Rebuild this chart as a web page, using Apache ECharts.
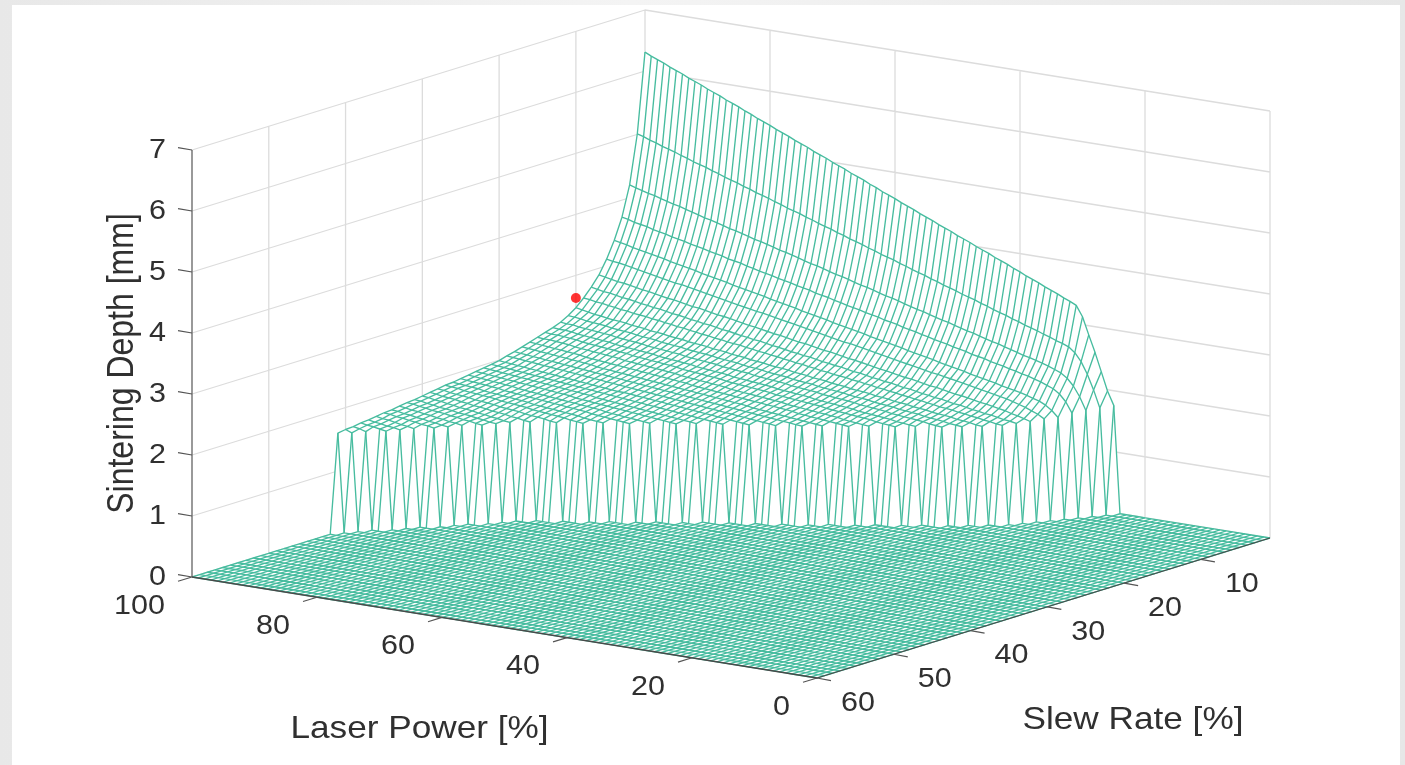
<!DOCTYPE html>
<html><head><meta charset="utf-8">
<style>
html,body{margin:0;padding:0;width:1405px;height:765px;overflow:hidden;background:linear-gradient(90deg,#e8e8e8,#f4f4f4 45%,#e7e7e7)}
#panel{position:absolute;left:12px;top:5px;width:1388px;height:760px;background:#fff}
#chart{position:absolute;left:0;top:0;width:1405px;height:765px;filter:blur(0.35px)}
</style>
<script src="https://cdn.jsdelivr.net/npm/echarts@6/dist/echarts.min.js"></script>
</head><body><div id="panel"></div><div id="chart"></div>
<script>
const powerTicks=[0,20,40,60,80,100];
const slewTicks=[10,20,30,40,50,60];
const depthTicks=[0,1,2,3,4,5,6,7];
const powerTitle='Laser Power [%]', slewTitle='Slew Rate [%]', depthTitle='Sintering Depth [mm]';
const redPoint=[100,10,2.63];
// Sintering depth in hundredths of a mm. Row n is slew rate n %; each row ends at laser power 100 %.
// Powers before a row's first value, and slew rates past the last row, read as depth 0.
const depthRows=[
[176,198,228,258,285,313,330,335,339,344,348,352,357,361,365,370,374,379,383,387,392,396,400,405,409,413,418,422,426,431,435,439,444,448,452,457,461,465,470,474,479,483,487,492,496,500,505,509,513,518,522,526,531,535,539,544,548,552,557,561,566,570,574,579,583,587,592,596,600,605,609,613,618,622,626,631],
[174,202,226,245,258,266,270,273,277,280,284,287,290,294,297,301,304,307,311,314,318,321,324,328,331,334,338,341,345,348,351,355,358,362,365,368,372,375,379,382,385,389,392,396,399,402,406,409,413,416,419,423,426,430,433,436,440,443,447,450,453,457,460,464,467,470,474,477,481,484,487,491,494,498,501],
[172,193,209,220,227,231,235,238,241,244,246,249,252,255,258,260,263,266,269,271,274,277,280,282,285,288,291,293,296,299,302,305,307,310,313,316,318,321,324,327,329,332,335,338,340,343,346,349,352,354,357,360,363,365,368,371,374,376,379,382,385,387,390,393,396,399,401,404,407,410,412,415,418,421],
[170,187,198,205,209,213,216,219,221,224,226,229,231,233,236,238,240,243,245,247,250,252,254,257,259,262,264,266,269,271,273,276,278,280,283,285,287,290,292,295,297,299,302,304,306,309,311,313,316,318,320,323,325,328,330,332,335,337,339,342,344,346,349,351,353,356,358,360,363,365,367,370,372],
[165,175,182,187,190,193,196,198,200,202,205,207,209,211,213,216,218,220,222,224,227,229,231,233,235,238,240,242,244,246,248,251,253,255,257,259,261,264,266,268,270,272,275,277,279,281,283,286,288,290,292,294,296,299,301,303,305,307,310,312,314,316,318,321,323,325,327,329,331,334,336,338],
[165,171,175,179,182,185,188,190,192,194,196,198,200,202,204,206,208,210,211,213,215,217,219,221,223,225,227,229,231,233,235,237,238,240,242,244,246,248,250,252,254,256,258,260,262,264,265,267,269,271,273,275,277,279,281,283,285,287,289,290,292,294,296,298,300,302,304,306,308,309,311],
[163,166,169,171,174,176,178,180,181,183,185,187,188,190,192,194,195,197,199,201,202,204,206,208,209,211,213,215,217,218,220,222,224,225,227,229,231,232,234,236,238,239,241,243,245,246,248,250,252,254,255,257,259,261,262,264,266,268,269,271,273,275,276,278,280,282,283,285,287,289],
[162,164,165,167,169,170,172,173,175,177,178,180,182,183,185,186,188,190,191,193,195,196,198,199,201,203,204,206,208,209,211,212,214,216,217,219,220,222,224,225,227,229,230,232,233,235,237,238,240,242,243,245,246,248,250,251,253,255,256,258,259,261,263,264,266,268,269,271,273],
[161,162,164,165,167,168,170,171,173,174,175,177,178,180,181,183,184,186,187,189,190,192,193,195,196,198,199,200,202,203,205,206,208,209,211,212,214,215,217,218,220,221,223,224,225,227,228,230,231,233,234,236,237,239,240,242,243,245,246,247,249,250,252,253,255,256,258,259],
[160,161,163,164,165,167,168,169,170,172,173,174,176,177,178,180,181,182,184,185,186,187,189,190,191,193,194,195,197,198,199,201,202,203,204,206,207,208,210,211,212,214,215,216,218,219,220,221,223,224,225,227,228,229,231,232,233,235,236,237,238,240,241,243,245,247],
[160,161,162,164,165,166,167,169,170,171,172,174,175,176,177,179,180,181,182,184,185,186,187,188,190,191,192,193,195,196,197,198,200,201,202,203,205,206,207,208,210,211,212,213,214,216,217,218,219,221,222,223,224,226,227,228,229,231,232,233,234,236,237,238],
[160,161,162,164,165,166,167,168,169,171,172,173,174,175,177,178,179,180,181,182,184,185,186,187,188,190,191,192,193,194,195,197,198,199,200,201,203,204,205,206,207,208,210,211,212,213,214,215,217,218,219,220,221,223,224,225,226,227,228,230,230,231],
[160,161,162,163,165,166,167,168,169,170,172,173,174,175,176,177,178,180,181,182,183,184,185,187,188,189,190,191,192,193,195,196,197,198,199,200,202,203,204,205,206,207,209,210,211,212,213,214,215,217,218,219,220,221,222,224,225,225,226],
[160,161,162,163,165,166,167,168,169,170,171,172,174,175,176,177,178,179,180,181,183,184,185,186,187,188,189,190,192,193,194,195,196,197,198,200,201,202,203,204,205,206,207,209,210,211,212,213,214,215,216,218,219,220,221,221,222],
[160,161,162,163,164,166,167,168,169,170,171,172,173,174,176,177,178,179,180,181,182,183,184,186,187,188,189,190,191,192,193,195,196,197,198,199,200,201,202,203,205,206,207,208,209,210,211,212,214,215,216,217,217,218],
[160,161,162,163,164,165,166,167,168,170,171,172,173,174,175,176,177,178,179,180,181,182,183,184,185,186,188,189,190,191,192,193,194,195,196,197,198,199,200,201,202,203,204,206,207,208,209,210,211,212,213,214],
[160,161,162,163,164,165,166,167,168,169,170,171,173,174,175,176,177,178,179,180,181,182,183,184,185,186,187,188,189,190,191,192,193,194,195,196,197,199,200,201,202,203,204,205,206,207,208,209,210],
[160,161,162,163,164,165,166,167,168,169,170,171,172,173,174,175,176,177,178,179,180,181,182,183,184,185,186,187,188,189,190,191,192,193,194,195,196,197,198,199,200,201,202,203,204,205,206],
[160,161,162,163,164,165,166,167,168,169,170,171,172,173,174,175,176,177,178,179,180,181,182,183,184,185,186,187,188,189,190,191,192,193,194,195,196,197,198,199,200,201,202,203],
[160,161,162,163,164,165,166,167,168,169,170,171,172,173,174,175,176,177,178,179,180,180,181,182,183,184,185,186,187,188,189,190,191,192,193,194,195,196,197,198,199],
[160,161,162,163,164,165,166,167,168,169,170,171,172,173,174,175,176,177,178,179,180,181,182,183,184,185,186,187,188,189,190,191,192,193,194,195,196,197],
[160,161,162,163,164,165,166,167,168,169,170,171,172,173,174,175,176,178,179,180,181,182,183,184,185,186,187,188,189,190,191,192,193,194,195],
[160,161,162,163,164,165,166,167,168,169,170,171,172,173,174,175,176,178,179,180,181,182,183,184,185,186,187,188,189,190,191,192,193],
[160,161,162,163,164,165,166,167,169,170,171,172,173,174,175,176,177,178,179,180,181,182,184,185,186,187,188,189,190,191],
[160,161,162,163,164,165,166,168,169,170,171,172,173,174,175,176,177,178,179,180,181,183,184,185,186,187,188,189],
[160,161,162,163,165,166,167,168,169,170,171,172,174,175,176,177,178,179,180,181,183,184,185,186,187],
[160,161,162,164,165,166,167,168,169,171,172,173,174,175,177,178,179,180,181,182,184,185,186],
[160,161,163,164,165,166,168,169,170,171,173,174,175,176,178,179,180,181,183,184],
[160,161,163,164,166,167,168,170,171,172,174,175,177,178,179,181,182],
[160,161,163,164,166,167,169,170,171,173,174,176,177,179,180],
[160,161,163,164,166,167,168,170,171,172,174,175,177,178],
[160,161,163,164,166,167,169,170,171,173,174,176,177],
[160,162,163,165,166,168,169,171,172,174,175],
[160,161,163,164,166,167,169,170,172,173],
[160,162,163,165,166,168,169,171,172],
[160,162,163,165,167,168,170],
[160,162,163,165,166,168],
[160,162,164,165,167],
[160,163,165],
[160,164],
[162]
];

const POWER_MAX=100, SLEW_MIN=1, SLEW_MAX=60, DEPTH_MAX=7;
// Orthographic view of the 3D box, in units of the hidden 2D axes.
const view={x0:817,y0:678,xP:-6.25,yP:-1.01,xS:-453/59,yS:140/59,yZ:-61};
const project=(p,s,z)=>[
  view.x0+view.xP*p+view.xS*(s-SLEW_MAX),
  view.y0+view.yP*p+view.yS*(s-SLEW_MAX)+view.yZ*z
];
const depthAt=(p,s)=>{
  const row=depthRows[s-1]; if(!row) return 0;
  const i=p-(POWER_MAX-row.length+1);
  return i<0?0:row[i]/100;
};
const BREAK=['-','-'];
const polyline=(out,pts)=>{pts.forEach(q=>out.push(project(q[0],q[1],q[2])));out.push(BREAK);};

const rowLines=[], columnLines=[];
for(let s=SLEW_MIN;s<=SLEW_MAX;s++){const a=[];for(let p=0;p<=POWER_MAX;p++)a.push([p,s,depthAt(p,s)]);polyline(rowLines,a);}
for(let p=0;p<=POWER_MAX;p++){const a=[];for(let s=SLEW_MIN;s<=SLEW_MAX;s++)a.push([p,s,depthAt(p,s)]);polyline(columnLines,a);}

const facePts=[];
for(let s=SLEW_MAX;s>=SLEW_MIN;s--)facePts.push(project(POWER_MAX,s,depthAt(POWER_MAX,s)));
for(let p=POWER_MAX;p>=0;p--)facePts.push(project(p,SLEW_MIN,depthAt(p,SLEW_MIN)));
facePts.push(project(0,SLEW_MAX,0));

const gridLines=[];
depthTicks.forEach(z=>{polyline(gridLines,[[POWER_MAX,SLEW_MAX,z],[POWER_MAX,SLEW_MIN,z],[0,SLEW_MIN,z]]);});
slewTicks.concat([SLEW_MIN]).filter(s=>s!==SLEW_MAX).forEach(s=>polyline(gridLines,[[POWER_MAX,s,0],[POWER_MAX,s,DEPTH_MAX]]));
powerTicks.concat([0]).filter(p=>p!==POWER_MAX).forEach(p=>polyline(gridLines,[[p,SLEW_MIN,0],[p,SLEW_MIN,DEPTH_MAX]]));

const axisLines=[];
polyline(axisLines,[[POWER_MAX,SLEW_MAX,DEPTH_MAX],[POWER_MAX,SLEW_MAX,0]]);
const edgeLines=[];
polyline(edgeLines,[[POWER_MAX,SLEW_MAX,0],[0,SLEW_MAX,0],[0,SLEW_MIN,0]]);
const tick={zdx:-14,zdy:-2.3,pdx:-14,pdy:4.3,sdx:14,sdy:2.6};
const tickLines=[];
const addTick=(o,dx,dy)=>{tickLines.push(o,[o[0]+dx,o[1]+dy],BREAK);};
depthTicks.forEach(z=>addTick(project(POWER_MAX,SLEW_MAX,z),tick.zdx,tick.zdy));
powerTicks.forEach(p=>addTick(project(p,SLEW_MAX,0),tick.pdx,tick.pdy));
slewTicks.forEach(s=>addTick(project(0,s,0),tick.sdx,tick.sdy));

const FONT='"Liberation Sans",Arial,sans-serif';
const texts=[];
depthTicks.forEach(z=>{const o=project(POWER_MAX,SLEW_MAX,z);texts.push({x:o[0]-26,y:o[1],t:String(z),a:'right',fs:28,sx:1.09});});
powerTicks.forEach(p=>{const o=project(p,SLEW_MAX,0);texts.push({x:o[0]-27,y:o[1]+29,t:String(p),a:'right',fs:28,sx:1.09});});
slewTicks.forEach(s=>{const o=project(0,s,0);texts.push({x:o[0]+24,y:o[1]+25,t:String(s),a:'left',fs:28,sx:1.09});});
const titleAt=(p,s,dx,dy)=>{const o=project(p,s,0);return [o[0]+dx,o[1]+dy];};
const pt=titleAt(50,SLEW_MAX,-85,102), st=titleAt(0,35,124,101), dt=project(POWER_MAX,SLEW_MAX,3.5);
texts.push({x:pt[0],y:pt[1],t:powerTitle,a:'center',fs:32,sx:1.1});
texts.push({x:st[0],y:st[1],t:slewTitle,a:'center',fs:32,sx:1.1});
texts.push({x:dt[0]-69,y:dt[1],t:depthTitle,a:'center',fs:32,sy:1.15,r:Math.PI/2});

const lineSeries=(name,data,color,width,z)=>({name,type:'line',data,z,symbol:'none',silent:true,animation:false,
  connectNulls:false,lineStyle:{color,width},clip:false});

const chart=echarts.init(document.getElementById('chart'),null,{renderer:'canvas'});
chart.setOption({
  animation:false,backgroundColor:'transparent',
  grid:{left:0,right:0,top:0,bottom:0},
  xAxis:{type:'value',min:0,max:1405,show:false},
  yAxis:{type:'value',min:0,max:765,inverse:true,show:false},
  tooltip:{show:false},
  series:[
    lineSeries('grid',gridLines,'#dcdcdc',1.3,1),
    {name:'face',type:'custom',z:2,silent:true,animation:false,clip:false,data:[[0,0]],
      renderItem:(params,api)=>({type:'polygon',shape:{points:facePts.map(q=>api.coord(q))},style:{fill:'#ffffff',stroke:null}})},
    lineSeries('constant slew',rowLines,'#47bc9f',1.35,3),
    lineSeries('constant power',columnLines,'#47bc9f',1.35,3),
    lineSeries('z axis',axisLines,'#6e6e6e',1.4,4),
    lineSeries('edges',edgeLines,'#4a4a4a',1.3,4),
    lineSeries('ticks',tickLines,'#555555',1.2,4),
    {name:'labels',type:'custom',z:5,silent:true,animation:false,clip:false,data:texts.map(t=>[t.x,t.y]),
      renderItem:(params,api)=>{const t=texts[params.dataIndex],c=api.coord([t.x,t.y]);
        return {type:'text',x:c[0],y:c[1],scaleX:t.sx||1,scaleY:t.sy||1,rotation:t.r||0,
          style:{text:t.t,x:0,y:0,fill:'#303030',align:t.a,verticalAlign:'middle',font:t.fs+'px '+FONT}};}},
    {name:'point',type:'scatter',z:6,silent:true,animation:false,symbol:'circle',symbolSize:10,
      itemStyle:{color:'#ff0000'},data:[project(redPoint[0],redPoint[1],redPoint[2])]}
  ]
});
</script></body></html>
